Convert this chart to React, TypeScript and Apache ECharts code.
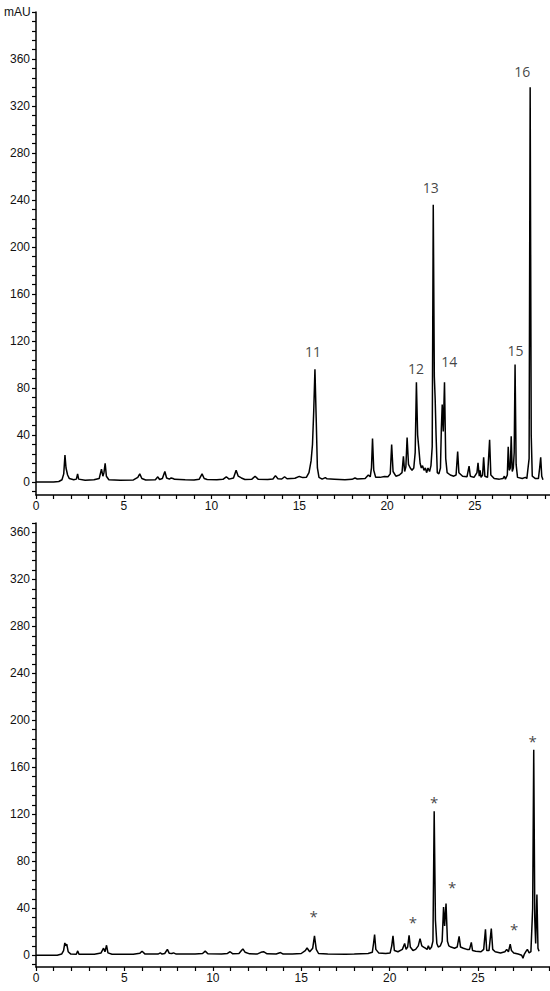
import React, { useEffect, useRef } from "react";
import * as echarts from "echarts";

// Upper chromatogram: [retention time (min), absorbance (mAU)]
const topTrace: [number, number][] = [
  [0.0, 0], [1.0, 0], [1.3, 0.5], [1.48, 2], [1.58, 7], [1.65, 23], [1.71, 12], [1.8, 6], [1.9, 3], [2.15, 2],
  [2.3, 2.5], [2.37, 7], [2.43, 2.5], [2.8, 1.5], [3.3, 2], [3.6, 3], [3.73, 11], [3.81, 5], [3.87, 8], [3.94, 16],
  [4.01, 5], [4.15, 2], [4.8, 1.5], [5.55, 1.8], [5.8, 4], [5.91, 7], [6.03, 3], [6.25, 1.8], [6.8, 2], [6.94, 4.5],
  [7.04, 2.2], [7.2, 3], [7.34, 9], [7.44, 3.5], [7.6, 2.5], [7.7, 3.5], [7.8, 3], [7.9, 2.3], [8.5, 2], [9.0, 1.8],
  [9.3, 2.5], [9.46, 7], [9.58, 3], [9.75, 2.2], [10.3, 2], [10.65, 2.3], [10.84, 4.5], [11.0, 2.5], [11.25, 3.5], [11.4, 10],
  [11.52, 5], [11.7, 3.5], [11.9, 2.2], [12.3, 2.5], [12.48, 5], [12.65, 2.5], [13.2, 2.2], [13.5, 2.6], [13.64, 5.5], [13.78, 2.8],
  [14.0, 2.6], [14.16, 4.5], [14.3, 2.8], [14.75, 3.2], [15.0, 4.8], [15.2, 3.8], [15.4, 4], [15.55, 8], [15.67, 18], [15.75, 32],
  [15.82, 60], [15.89, 96], [15.96, 55], [16.03, 12], [16.12, 4], [16.3, 2.5], [16.48, 3.8], [16.58, 2.8], [17.0, 2.5], [17.6, 2],
  [18.0, 2.3], [18.17, 3.5], [18.3, 2.6], [18.75, 3], [18.93, 6], [19.04, 4.5], [19.11, 12], [19.17, 37], [19.24, 10], [19.35, 4],
  [19.6, 4], [19.85, 4.8], [20.05, 4.5], [20.18, 7], [20.26, 32], [20.34, 9], [20.5, 5], [20.7, 6], [20.85, 8], [20.93, 22],
  [21.0, 9], [21.07, 13], [21.14, 38], [21.22, 15], [21.32, 12], [21.42, 10], [21.52, 12], [21.6, 25], [21.67, 85], [21.74, 40],
  [21.8, 30], [21.88, 16], [21.95, 12], [22.02, 14], [22.1, 10], [22.18, 12], [22.25, 8], [22.33, 12], [22.42, 9], [22.5, 14],
  [22.57, 30], [22.63, 236], [22.69, 90], [22.74, 70], [22.79, 40], [22.86, 8], [22.95, 7], [23.04, 12], [23.09, 45], [23.14, 66],
  [23.2, 43], [23.27, 85], [23.34, 20], [23.42, 8], [23.6, 6], [23.8, 5], [23.93, 6], [24.02, 26], [24.09, 8], [24.3, 5],
  [24.55, 4.5], [24.67, 13.6], [24.74, 5], [24.95, 4], [25.12, 8], [25.18, 16.4], [25.25, 5], [25.3, 10], [25.35, 4], [25.44, 6],
  [25.5, 21], [25.57, 5], [25.72, 4], [25.84, 36], [25.91, 6], [26.1, 3], [26.4, 2.5], [26.6, 3], [26.68, 5], [26.74, 2.5],
  [26.85, 6], [26.9, 30], [26.96, 10], [27.02, 12], [27.07, 39], [27.13, 9], [27.19, 12], [27.24, 25], [27.29, 100], [27.35, 15],
  [27.43, 4], [27.7, 3], [27.88, 4], [27.96, 3], [28.09, 20], [28.15, 336], [28.21, 40], [28.27, 5], [28.45, 3], [28.62, 3],
  [28.69, 12], [28.75, 21], [28.81, 5], [28.88, 2]
];

// Lower chromatogram: [retention time (min), absorbance (mAU)]
const bottomTrace: [number, number][] = [
  [0.0, 0], [1.2, 0], [1.45, 1], [1.56, 4], [1.63, 10.5], [1.69, 8], [1.74, 9.5], [1.82, 3], [1.97, 1], [2.28, 0.8],
  [2.36, 3.7], [2.43, 0.8], [3.3, 0.8], [3.68, 2], [3.82, 6], [3.9, 3], [3.99, 8.5], [4.07, 2], [4.3, 0.8], [5.5, 0.8],
  [5.88, 1.8], [6.0, 3.4], [6.17, 1], [6.9, 1], [7.03, 2], [7.13, 1], [7.28, 1.5], [7.43, 5], [7.53, 1.8], [7.68, 1.5],
  [7.78, 2], [7.93, 1], [9.0, 1], [9.42, 1.5], [9.57, 3.5], [9.72, 1.2], [10.5, 1], [10.83, 1.5], [10.98, 3], [11.13, 1.2],
  [11.48, 1.5], [11.62, 4], [11.7, 5.4], [11.83, 2.5], [12.08, 1.2], [12.5, 1], [12.72, 2.5], [12.87, 3], [13.07, 1.2], [13.58, 1],
  [13.83, 2.3], [13.98, 1], [14.5, 1], [15.0, 1.5], [15.23, 4], [15.33, 6.2], [15.48, 3], [15.65, 6], [15.75, 16.5], [15.85, 5],
  [15.98, 1.5], [16.5, 1], [17.5, 0.8], [18.0, 1], [18.78, 1.5], [19.02, 2.5], [19.09, 10], [19.15, 17.6], [19.22, 5], [19.38, 2],
  [19.78, 1.5], [20.03, 2], [20.12, 8], [20.19, 16.5], [20.27, 4], [20.47, 3], [20.72, 5], [20.85, 10], [20.93, 5], [21.02, 7],
  [21.1, 17], [21.17, 7], [21.32, 4], [21.47, 5], [21.62, 8], [21.72, 14.2], [21.82, 8], [21.92, 7], [22.02, 6], [22.12, 5],
  [22.19, 8], [22.27, 5], [22.37, 7], [22.45, 12], [22.52, 122.5], [22.59, 30], [22.67, 10], [22.75, 7], [22.87, 8], [22.97, 12],
  [23.05, 41], [23.11, 25], [23.19, 44], [23.27, 12], [23.35, 8], [23.47, 7], [23.67, 6], [23.82, 7], [23.93, 16], [24.01, 7],
  [24.17, 6], [24.37, 5], [24.52, 5], [24.62, 11], [24.69, 4], [24.87, 3.5], [25.17, 3], [25.32, 5], [25.42, 22], [25.49, 4],
  [25.62, 4], [25.75, 22.7], [25.83, 5], [25.97, 3], [26.27, 2], [26.52, 3], [26.62, 5], [26.72, 3], [26.82, 9.4], [26.89, 4],
  [27.02, 2], [27.27, 1], [27.47, 0], [27.54, -2.5], [27.62, 1], [27.72, 3.5], [27.79, 5], [27.89, 2], [27.99, 3], [28.09, 40],
  [28.15, 175], [28.21, 30], [28.26, 10], [28.33, 51.7], [28.39, 6], [28.45, 3.5]
];

// Peak numbers above the upper trace: [time, mAU, label]
const topPeakLabels: [number, number, string][] = [
  [15.78, 111, "11"], [21.64, 97, "12"], [22.49, 250.5, "13"], [23.54, 103, "14"], [27.32, 112, "15"], [27.7, 349, "16"]
];

// Asterisks above the lower trace: [time, mAU, label]
const bottomMarks: [number, number, string][] = [
  [15.7, 35.7, "*"], [21.31, 30.6, "*"], [22.51, 132.8, "*"], [23.53, 60.4, "*"], [27.04, 25, "*"], [28.09, 185, "*"]
];

const xLabelValues = [0, 5, 10, 15, 20, 25];
const xTickValues = Array.from({ length: 30 }, (_, i) => i);
const yLabelValues = [0, 40, 80, 120, 160, 200, 240, 280, 320, 360];
const yTickTop = Array.from({ length: 52 }, (_, i) => -8 + i * 8);
const yTickBottom = Array.from({ length: 48 }, (_, i) => -8 + i * 8);

const FONT = "'Liberation Sans', Arial, Helvetica, sans-serif";

export default function App() {
  const ref = useRef<HTMLDivElement>(null);
  useEffect(() => {
    const chart = echarts.init(ref.current!, null, { renderer: "svg" });
    const axisLineStyle = { show: true, onZero: false, lineStyle: { color: "#000", width: 1.5 } };
    const xAxisBase = (max: number, gridIndex: number) => ({
      type: "value",
      gridIndex,
      min: 0,
      max,
      axisLine: axisLineStyle,
      splitLine: { show: false },
      axisTick: { show: true, length: 4, customValues: xTickValues, lineStyle: { color: "#000", width: 1.2 } },
      axisLabel: { show: true, customValues: xLabelValues, margin: 5, fontSize: 12, color: "#111", fontFamily: FONT },
    });
    const yAxisBase = (min: number, max: number, gridIndex: number, ticks: number[]) => ({
      type: "value",
      gridIndex,
      min,
      max,
      axisLine: axisLineStyle,
      splitLine: { show: false },
      axisTick: { show: true, length: 4, customValues: ticks, lineStyle: { color: "#000", width: 1.2 } },
      axisLabel: { show: true, customValues: yLabelValues, margin: 6, fontSize: 12, color: "#111", fontFamily: FONT },
    });
    const labelSeries = (data: [number, number, string][], xi: number, fontSize: number, offset: number[]) => ({
      type: "scatter",
      xAxisIndex: xi,
      yAxisIndex: xi,
      data,
      symbolSize: 1,
      itemStyle: { color: "rgba(0,0,0,0)" },
      label: {
        show: true,
        position: "inside",
        offset,
        formatter: (p: any) => p.value[2],
        fontSize,
        color: "#111",
        fontFamily: "'Open Sans', 'Noto Sans', Arial, sans-serif",
      },
      silent: true,
    });
    chart.setOption({
      animation: false,
      backgroundColor: "#fff",
      grid: [
        { left: 36, right: 0, top: 12, height: 483 },
        { left: 36, right: 0, top: 523, height: 444 },
      ],
      xAxis: [xAxisBase(29.28, 0), xAxisBase(29.07, 1)],
      yAxis: [yAxisBase(-11, 400, 0, yTickTop), yAxisBase(-10, 368, 1, yTickBottom)],
      graphic: [
        {
          type: "text",
          left: 4,
          top: 6,
          style: { text: "mAU", fontSize: 12, fill: "#111", fontFamily: FONT },
        },
      ],
      series: [
        {
          type: "line",
          xAxisIndex: 0,
          yAxisIndex: 0,
          data: topTrace,
          showSymbol: false,
          symbol: "none",
          lineStyle: { color: "#000", width: 1.5 },
        },
        {
          type: "line",
          xAxisIndex: 1,
          yAxisIndex: 1,
          data: bottomTrace,
          showSymbol: false,
          symbol: "none",
          lineStyle: { color: "#000", width: 1.5 },
        },
        labelSeries(topPeakLabels, 0, 14, [0, 0]),
        labelSeries(bottomMarks, 1, 15, [0, 3]),
      ],
    });
    return () => chart.dispose();
  }, []);
  return <div ref={ref} style={{ position: "fixed", left: 0, top: 0, width: 550, height: 991 }} />;
}
